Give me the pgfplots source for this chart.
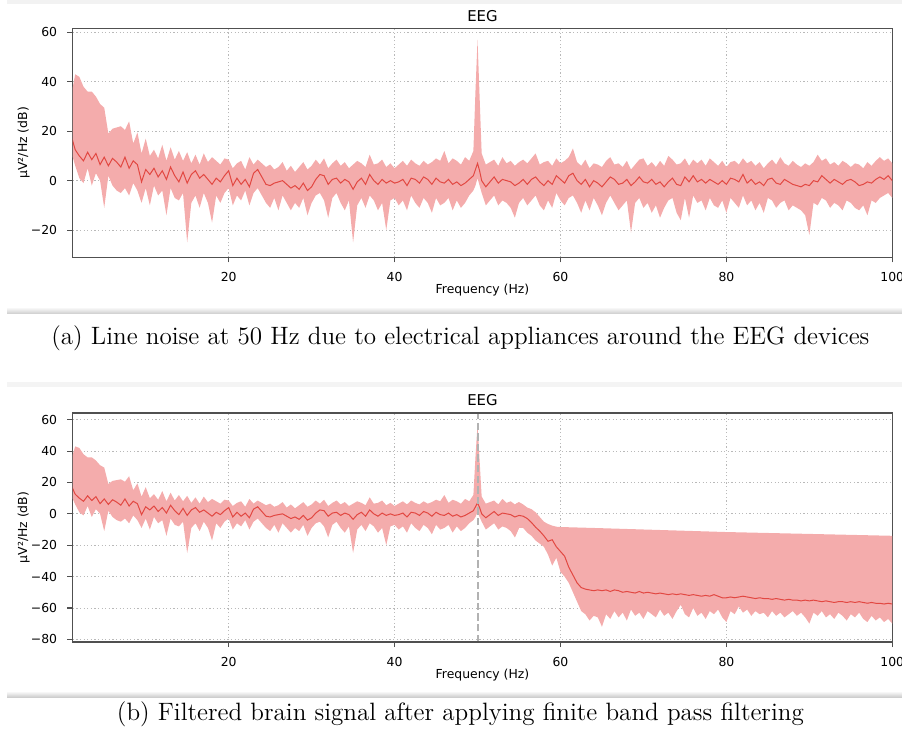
\documentclass[border=0pt]{standalone}
\usepackage{fontspec}
\usepackage{pgfplots}
\pgfplotsset{compat=1.18}
\usepackage{pgfplotstable}
\usepgfplotslibrary{fillbetween}

\newfontfamily\mpl{DejaVu Sans}
\definecolor{bandred}{RGB}{244,172,172}
\definecolor{linered}{RGB}{226,72,66}
\definecolor{spine}{RGB}{80,80,80}

% PSD of the raw recording: frequency, mean, lower and upper envelope (dB)
\pgfplotstableread{
f m lo hi
1.0 18.5 12 34
1.5 12.5 6 43
2.0 10.0 1 42
2.5 8.0 -1 38
3.0 11.5 5 36
3.5 8.5 -2 36
4.0 11.0 3 34
4.5 6.5 0 31
5.0 9.5 -11 29.5
5.5 6.0 2 19
6.0 9.0 -2 21
6.5 7.5 -4 21.5
7.0 5.5 -5 22
7.5 9.5 -3 20.5
8.0 5.0 -6 24
8.5 8.0 -1 15
9.0 6.5 -4 19.5
9.5 -0.5 -9 11
10.0 4.5 -3 17
10.5 2.5 -10 10
11.0 5.0 -2 12.5
11.5 1.5 -6 9
12.0 4.0 -4 14.5
12.5 0.5 -14 8
13.0 5.5 -3 13.5
13.5 2.0 -7 8.5
14.0 -0.5 -8 12
14.5 3.5 -5 8
15.0 -1.0 -25 11.5
15.5 2.5 -9 7
16.0 4.0 -6 10.5
16.5 1.0 -11 6.5
17.0 2.5 -5 11
17.5 0.5 -9 7.5
18.0 -1.5 -17 9.5
18.5 1.0 -6 8
19.0 -0.5 -9 6.5
19.5 2.0 -5 9
20.0 4.0 -3 8.5
20.5 -2.0 -10 5
21.0 1.0 -6 7
21.5 -1.5 -8 8
22.0 0.5 -4 4.5
22.5 -2.5 -10 9.5
23.0 3.0 -5 6.5
23.5 4.5 -3 8.5
24.0 1.5 -6 7
24.5 -1.5 -9 5.5
25.0 -2.0 -11 6.5
25.5 -1.0 -7 4.5
26.0 -0.5 -12 5.5
26.5 0.0 -6 7.5
27.0 -1.5 -9 4
27.5 -3.0 -12 6
28.0 -2.0 -9 3.5
28.5 -3.5 -11 5.5
29.0 -1.0 -7 7.5
29.5 -4.0 -14 4.5
30.0 -2.5 -9 6
30.5 0.5 -6 8.5
31.0 2.5 -5 6.5
31.5 2.0 -8 9
32.0 -1.5 -15 5
32.5 0.5 -7 7
33.0 1.0 -5 8.5
33.5 -1.0 -9 6
34.0 0.5 -12 7.5
34.5 -0.5 -8 5
35.0 -3.5 -25 6.5
35.5 -0.5 -10 8
36.0 1.0 -7 7
36.5 -1.5 -11 5.5
37.0 2.5 -6 10.5
37.5 0.0 -8 6.5
38.0 -1.5 -12 7
38.5 0.5 -9 8.5
39.0 -1.0 -20 5.5
39.5 0.0 -8 7
40.0 -1.0 -7 5
40.5 -0.5 -10 6.5
41.0 0.5 -8 8
41.5 -2.0 -12 6
42.0 1.0 -6 8.5
42.5 0.5 -9 7
43.0 -1.0 -11 6
43.5 1.5 -7 8
44.0 0.5 -9 6.5
44.5 -1.5 -13 7.5
45.0 1.0 -7 9
45.5 -0.5 -10 8
46.0 -1.0 -9 12
46.5 0.5 -7 7
47.0 -1.5 -12 9
47.5 -0.5 -8 8
48.0 -2.0 -11 6.5
48.5 -1.0 -9 9.5
49.0 0.5 -6 8
49.5 2.0 -4 12
49.75 4.5 -2 36
50.0 7.0 1 57
50.25 4.0 -2 34
50.5 0.0 -5 11
51.0 -2.5 -10 6.5
51.5 -0.5 -8 7.5
52.0 1.5 -6 8.5
52.5 -1.0 -10 6
53.0 0.5 -8 9.5
53.5 0.0 -9 7
54.0 -0.5 -11 8
54.5 -2.0 -15 6
55.0 -1.0 -9 7.5
55.5 0.5 -7 8.5
56.0 -1.5 -10 7
56.5 0.5 -8 9
57.0 1.5 -6 11
57.5 -0.5 -10 6.5
58.0 -2.0 -12 7.5
58.5 0.0 -8 8
59.0 -1.5 -11 6
59.5 2.0 -5 9
60.0 0.5 -8 7
60.5 -1.0 -10 8
61.0 2.0 -7 9.5
61.5 3.0 -6 13
62.0 0.0 -9 7.5
62.5 -1.5 -13 6
63.0 0.5 -8 8.5
63.5 -2.5 -12 5
64.0 0.0 -7 7
64.5 -1.0 -10 6.5
65.0 -2.5 -14 5.5
65.5 -0.5 -9 8
66.0 1.5 -6 9.5
66.5 0.5 -9 6.5
67.0 -1.5 -12 7
67.5 -1.0 -10 5.5
68.0 0.5 -8 8
68.5 -2.0 -21 4.5
69.0 -0.5 -9 6.5
69.5 1.5 -7 8.5
70.0 -0.5 -11 9
70.5 -1.0 -9 6
71.0 0.5 -13 7.5
71.5 -1.5 -10 5.5
72.0 -0.5 -15 8
72.5 -2.5 -11 6
73.0 -0.5 -8 10
73.5 1.0 -7 8.5
74.0 -1.5 -13 6.5
74.5 -2.0 -16 7
75.0 1.5 -7 9
75.5 -0.5 -15 6
76.0 2.0 -6 8.5
76.5 -0.5 -9 7
77.0 0.5 -8 8.5
77.5 -1.0 -12 6
78.0 0.5 -7 9
78.5 -0.5 -10 7.5
79.0 -1.5 -11 6
79.5 0.0 -8 8
80.0 -1.5 -13 5.5
80.5 1.0 -7 7.5
81.0 0.5 -9 8
81.5 -0.5 -11 6.5
82.0 2.5 -6 9
82.5 -1.0 -10 7
83.0 0.5 -8 8
83.5 -1.5 -12 6
84.0 -0.5 -9 7.5
84.5 -2.0 -13 5
85.0 0.5 -7 7
85.5 1.0 -8 8.5
86.0 -1.0 -11 6.5
86.5 -1.5 -9 9.5
87.0 0.5 -8 7
87.5 -0.5 -12 6
88.0 -1.5 -10 8
88.5 -2.0 -11 6.5
89.0 -2.5 -12 5.5
89.5 -1.5 -14 7
90.0 -2.0 -22 6
90.5 0.0 -9 7.5
91.0 -0.5 -10 10.5
91.5 2.0 -7 8
92.0 0.5 -8 9
92.5 -1.0 -11 6.5
93.0 0.5 -9 7.5
93.5 -0.5 -10 6
94.0 -1.5 -12 8
94.5 0.0 -8 7
95.0 0.5 -9 5.5
95.5 -0.5 -11 7
96.0 -2.0 -12 6.5
96.5 -1.5 -10 5
97.0 -0.5 -14 7.5
97.5 -1.0 -8 6
98.0 0.5 -9 8
98.5 1.5 -7 9.5
99.0 0.5 -6 8
99.5 2.0 -5 9
100.0 0.0 -7 7
}\psdraw

% PSD after filtering, from 54.5 Hz upward: mean and lower envelope (dB)
\pgfplotstableread{
f m lo
54.5 -2.0 -15
55.0 -1.0 -9
55.5 -1.5 -9
56.0 -3.0 -12
56.5 -5.5 -14
57.0 -8.5 -17
57.5 -11.0 -19
58.0 -14.0 -21
58.5 -17.5 -26
59.0 -16.5 -33
59.5 -21.0 -28
60.0 -24.0 -37
60.5 -27.0 -40
61.0 -34.0 -44
61.5 -39.0 -50
62.0 -44.0 -56
62.5 -47.0 -62
63.0 -48.0 -64
63.5 -48.5 -68
64.0 -49.0 -65
64.5 -48.5 -66
65.0 -49.0 -72
65.5 -48.5 -64
66.0 -49.5 -67
66.5 -48.5 -62
67.0 -49.0 -66
67.5 -50.0 -63
68.0 -49.5 -68
68.5 -50.0 -61
69.0 -50.5 -65
69.5 -49.5 -63
70.0 -50.5 -67
70.5 -50.0 -62
71.0 -50.5 -64
71.5 -51.0 -66
72.0 -50.5 -61
72.5 -51.0 -65
73.0 -51.5 -63
73.5 -51.0 -67
74.0 -51.5 -62
74.5 -51.0 -58
75.0 -51.5 -64
75.5 -52.0 -66
76.0 -51.5 -60
76.5 -52.0 -65
77.0 -52.5 -63
77.5 -52.0 -67
78.0 -52.5 -62
78.5 -51.5 -64
79.0 -52.5 -61
79.5 -53.5 -66
80.0 -53.5 -69
80.5 -53.0 -62
81.0 -53.5 -64
81.5 -53.0 -59
82.0 -52.5 -63
82.5 -53.0 -61
83.0 -53.5 -65
83.5 -54.0 -62
84.0 -53.5 -64
84.5 -54.0 -63
85.0 -54.0 -66
85.5 -54.5 -62
86.0 -54.0 -65
86.5 -54.5 -63
87.0 -55.0 -66
87.5 -54.5 -64
88.0 -55.0 -62
88.5 -55.0 -65
89.0 -55.5 -63
89.5 -55.0 -66
90.0 -55.5 -70
90.5 -55.0 -63
91.0 -55.5 -65
91.5 -56.0 -62
92.0 -55.5 -66
92.5 -56.0 -64
93.0 -56.5 -67
93.5 -56.0 -63
94.0 -56.0 -65
94.5 -56.5 -68
95.0 -56.0 -64
95.5 -56.5 -66
96.0 -56.0 -63
96.5 -56.5 -67
97.0 -57.0 -69
97.5 -56.5 -65
98.0 -57.0 -68
98.5 -57.0 -66
99.0 -57.5 -69
99.5 -57.0 -67
100.0 -57.5 -70
}\psdfilt

% upper envelope after filtering
\pgfplotstableread{
f hi
54.5 6
55.0 7.5
55.5 6
56.0 4
56.5 3
57.0 1
57.5 -2
58.0 -5
58.5 -6.5
59.0 -7.5
59.5 -8.2
60.0 -8.4
64.0 -9.0
80.0 -11.6
100.0 -14.0
}\psdfilthi

\pgfplotsset{
  eegaxis/.style={
    scale only axis, width=409.8pt, height=114.5pt,
    xmin=1.2, xmax=100,
    xtick={20,40,60,80,100},
    xticklabels={20,40,60,80,100},
    tick align=outside, xtick pos=left, ytick pos=left,
    major tick length=2.6pt,
    every tick/.style={spine, line width=0.55pt},
    axis line style={spine, line width=0.65pt},
    grid=major,
    major grid style={gray!55, line width=0.4pt, dash pattern=on 0.6pt off 1.2pt},
    ticklabel style={font=\mpl\fontsize{6.2}{7}\selectfont, inner sep=0pt},
    xticklabel style={anchor=center, yshift=-7.3pt},
    yticklabel style={anchor=east, xshift=-5pt},
    title={EEG},
    every axis title shift=0pt,
    title style={font=\mpl\fontsize{7.45}{9}\selectfont, inner sep=0pt,
      at={(axis description cs:0.5,1.055)}, anchor=center, yshift=0pt},
    xlabel={Frequency (Hz)},
    xlabel style={font=\mpl\fontsize{6.2}{7}\selectfont, inner sep=0pt,
      at={(axis description cs:0.5,-0.1432)}, anchor=center},
    ylabel={µV²/Hz (dB)},
    ylabel style={font=\mpl\fontsize{6.2}{7}\selectfont, inner sep=0pt,
      at={(axis description cs:-0.0598,0.5)}, anchor=center},
  },
  band/.style={fill=bandred, draw=none},
  meanline/.style={linered, line width=0.5pt},
}

\begin{document}
\begin{tikzpicture}

% frame shading between the two figure panels
\fill[gray!10] (3.5pt,0) rectangle (451pt,-2pt);
\shade[top color=gray!6, bottom color=gray!40] (3.5pt,-154pt) rectangle (451pt,-157pt);
\fill[gray!9] (3.5pt,-191pt) rectangle (451pt,-193.5pt);
\shade[top color=gray!6, bottom color=gray!40] (3.5pt,-346pt) rectangle (451pt,-348.6pt);

% (a) raw recording
\begin{axis}[eegaxis, at={(36.35pt,-128.65pt)}, anchor=south west,
  ymin=-31, ymax=61.6,
  ytick={-20,0,20,40,60}, yticklabels={−20,0,20,40,60}]
  \addplot[name path=hiA, draw=none, forget plot] table[x=f, y=hi]{\psdraw};
  \addplot[name path=loA, draw=none, forget plot] table[x=f, y=lo]{\psdraw};
  \addplot[band, forget plot] fill between[of=hiA and loA];
  \addplot[meanline] table[x=f, y=m]{\psdraw};
  \draw[spine, line width=0.65pt] (rel axis cs:0,0) rectangle (rel axis cs:1,1);
\end{axis}

% (b) after band pass filtering
\begin{axis}[eegaxis, at={(36.35pt,-321pt)}, anchor=south west,
  ymin=-81.7, ymax=64.3,
  ytick={-80,-60,-40,-20,0,20,40,60},
  yticklabels={−80,−60,−40,−20,0,20,40,60}]
  \addplot[name path=hiB1, draw=none, forget plot, restrict x to domain=0:55] table[x=f, y=hi]{\psdraw};
  \addplot[name path=loB1, draw=none, forget plot, restrict x to domain=0:55] table[x=f, y=lo]{\psdraw};
  \addplot[band, forget plot] fill between[of=hiB1 and loB1];
  \addplot[name path=hiB2, draw=none, forget plot] table[x=f, y=hi]{\psdfilthi};
  \addplot[name path=loB2, draw=none, forget plot] table[x=f, y=lo]{\psdfilt};
  \addplot[band, forget plot] fill between[of=hiB2 and loB2];
  \addplot[meanline, restrict x to domain=0:55] table[x=f, y=m]{\psdraw};
  \addplot[meanline, restrict x to domain=55:100] table[x=f, y=m]{\psdfilt};
  % 50 Hz line-noise marker
  \addplot[gray!60, line width=1pt, dash pattern=on 3.7pt off 1.6pt] coordinates {(50,-81.7) (50,64.3)};
  \draw[spine, line width=0.65pt] (rel axis cs:0,0) rectangle (rel axis cs:1,1);
\end{axis}

% captions
\node[font=\fontsize{12.55}{15}\selectfont, anchor=center, inner sep=0pt] at (230.2pt,-169.2pt)
  {(a) Line noise at 50 Hz due to electrical appliances around the EEG devices};
\node[font=\fontsize{12.55}{15}\selectfont, anchor=center, inner sep=0pt] at (230.2pt,-357pt)
  {(b) Filtered brain signal after applying finite band pass filtering};

\pgfresetboundingbox
\useasboundingbox (0,0) rectangle (451pt,-369pt);
\end{tikzpicture}
\end{document}
